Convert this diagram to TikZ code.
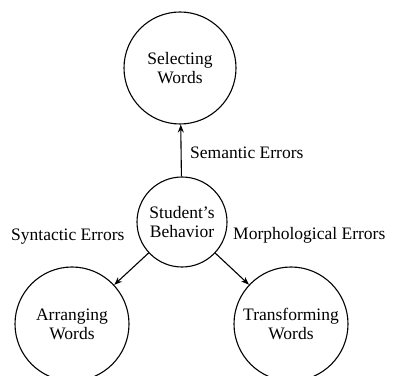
\documentclass[tikz,border=0pt]{standalone}
\usepackage{fontspec}
\setmainfont{Liberation Serif}
\usetikzlibrary{arrows.meta}
\tikzset{
  bubble/.style={draw, circle, line width=1.1pt, inner sep=0pt, align=center, font=\fontsize{17.5}{19}\selectfont},
  errlabel/.style={font=\fontsize{17.5}{19}\selectfont, inner sep=0pt},
  flow/.style={line width=1.1pt, -{Stealth[length=8pt, width=6pt]}}
}

\begin{document}
\begin{tikzpicture}[x=1pt, y=1pt]
\useasboundingbox (0,0) rectangle (396,375);

% Circles
\node[bubble, minimum size=112pt] (sel) at (180,307) {Selecting\\Words};
\node[bubble, minimum size=90pt] (beh) at (182,153) {Student's\\Behavior};
\node[bubble, minimum size=114pt] (arr) at (72,51) {Arranging\\Words};
\node[bubble, minimum size=114pt] (tra) at (291,51) {Transforming\\Words};

% Error labels
\node[errlabel, anchor=west] (sem) at (190,222) {Semantic Errors};
\node[errlabel, anchor=west] (syn) at (11,138) {Syntactic Errors};
\node[errlabel, anchor=west] (mor) at (233,140) {Morphological Errors};

% Arrows
\draw[flow] (beh) -- (sel);
\draw[flow] (beh) -- (arr);
\draw[flow] (beh) -- (tra);

\end{tikzpicture}
\end{document}
